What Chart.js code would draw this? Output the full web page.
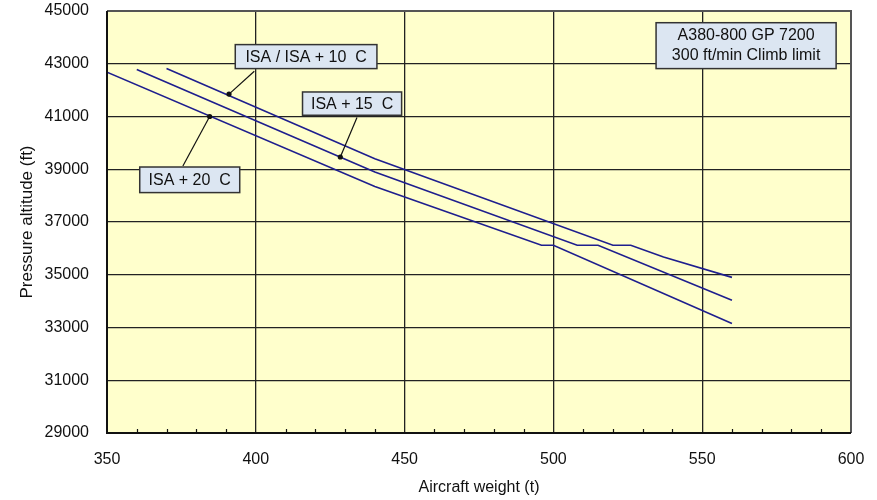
<!DOCTYPE html>
<html>
<head>
<meta charset="utf-8">
<script src="https://cdn.jsdelivr.net/npm/chart.js@4.4.1/dist/chart.umd.min.js"></script>
<style>
  html, body { margin: 0; padding: 0; background: #fff; }
  #wrap { width: 877px; height: 500px; }
</style>
</head>
<body>
<div id="wrap"><canvas id="c" width="877" height="500"></canvas></div>
<script>
// ── datos (peso en t, altitud en ft) ──
const weightIsa10 = [370, 440, 520, 526, 537, 560];
const altIsa10    = [42820, 39400, 36120, 36120, 35670, 34900];
const weightIsa15 = [360, 440, 508, 515, 560];
const altIsa15    = [42780, 38900, 36120, 36120, 34030];
const weightIsa20 = [350, 440, 496, 500, 560];
const altIsa20    = [42680, 38350, 36120, 36120, 33150];
const seriesNames = ['ISA / ISA + 10  C', 'ISA + 15  C', 'ISA + 20  C'];

const xTicks = [350, 400, 450, 500, 550, 600];
const xMinorTicks = [360, 370, 380, 390, 410, 420, 430, 440, 460, 470, 480, 490,
                     510, 520, 530, 540, 560, 570, 580, 590];
const yTicks = [29000, 31000, 33000, 35000, 37000, 39000, 41000, 43000, 45000];
const infoLines = ['A380-800 GP 7200', '300 ft/min Climb limit'];

// callouts: caja [w0, altTop, w1, altBottom], inicio de la guía y punto sobre la curva
const callouts = [
  { text: seriesNames[0], box: [393.1, 43726, 440.7, 42816], from: [399.5, 42714], dot: [391, 41850] },
  { text: seriesNames[1], box: [415.7, 41930, 449.0, 41047], from: [434.0, 40958], dot: [428.4, 39465] },
  { text: seriesNames[2], box: [361.0, 39085, 394.6, 38115], from: [375.5, 39123], dot: [384.5, 41000] }
];
const infoBox = [534.5, 44556, 595, 42816];

const FONT = 'Liberation Sans, Arial, sans-serif';
const LINE = '#1e1e8e';

function pts(ws, as) { return ws.map(function (w, i) { return { x: w, y: as[i] }; }); }

const plotDecor = {
  id: 'plotDecor',
  beforeDraw: function (chart) {
    const a = chart.chartArea, ctx = chart.ctx;
    ctx.save();
    ctx.fillStyle = '#FFFFCC';
    ctx.fillRect(a.left, a.top, a.right - a.left, a.bottom - a.top);
    ctx.restore();
  },
  afterDatasetsDraw: function (chart) {
    const a = chart.chartArea, ctx = chart.ctx;
    const xs = chart.scales.x, ys = chart.scales.y;
    const px = function (w) { return xs.getPixelForValue(w); };
    const py = function (v) { return ys.getPixelForValue(v); };
    ctx.save();
    // marco del área
    ctx.lineWidth = 2;
    ctx.strokeStyle = '#555';
    ctx.beginPath();
    ctx.moveTo(a.left, a.top); ctx.lineTo(a.right, a.top); ctx.lineTo(a.right, a.bottom);
    ctx.stroke();
    ctx.strokeStyle = '#111';
    ctx.beginPath();
    ctx.moveTo(a.left, a.top); ctx.lineTo(a.left, a.bottom); ctx.lineTo(a.right, a.bottom);
    ctx.stroke();
    // marcas menores hacia dentro
    ctx.lineWidth = 1.2;
    xMinorTicks.forEach(function (w) {
      const x = Math.round(px(w)) + 0.5;
      ctx.beginPath(); ctx.moveTo(x, a.bottom); ctx.lineTo(x, a.bottom - 4); ctx.stroke();
    });
    // callouts
    ctx.font = '16px ' + FONT;
    ctx.textAlign = 'center';
    ctx.textBaseline = 'middle';
    callouts.forEach(function (c) {
      ctx.strokeStyle = '#111'; ctx.lineWidth = 1.2;
      ctx.beginPath(); ctx.moveTo(px(c.from[0]), py(c.from[1])); ctx.lineTo(px(c.dot[0]), py(c.dot[1])); ctx.stroke();
      ctx.fillStyle = '#111';
      ctx.beginPath(); ctx.arc(px(c.dot[0]), py(c.dot[1]), 2.6, 0, Math.PI * 2); ctx.fill();
      const x0 = px(c.box[0]), y0 = py(c.box[1]), x1 = px(c.box[2]), y1 = py(c.box[3]);
      ctx.fillStyle = '#DCE6F2';
      ctx.fillRect(x0, y0, x1 - x0, y1 - y0);
      ctx.strokeStyle = '#333'; ctx.lineWidth = 1.5;
      ctx.strokeRect(x0, y0, x1 - x0, y1 - y0);
      ctx.fillStyle = '#111';
      ctx.fillText(c.text, (x0 + x1) / 2, (y0 + y1) / 2 + 1);
    });
    // caja de información
    const bx0 = px(infoBox[0]), by0 = py(infoBox[1]), bx1 = px(infoBox[2]), by1 = py(infoBox[3]);
    ctx.fillStyle = '#DCE6F2';
    ctx.fillRect(bx0, by0, bx1 - bx0, by1 - by0);
    ctx.strokeStyle = '#333'; ctx.lineWidth = 1.5;
    ctx.strokeRect(bx0, by0, bx1 - bx0, by1 - by0);
    ctx.fillStyle = '#111';
    const cy = (by0 + by1) / 2;
    ctx.fillText(infoLines[0], (bx0 + bx1) / 2, cy - 10);
    ctx.fillText(infoLines[1], (bx0 + bx1) / 2, cy + 10);
    ctx.restore();
  }
};

const gridStyle = { color: '#222', lineWidth: 1.3, drawTicks: false };
const plain = function (v) { return String(v); };

new Chart(document.getElementById('c'), {
  type: 'line',
  data: {
    datasets: [
      { label: seriesNames[0], data: pts(weightIsa10, altIsa10) },
      { label: seriesNames[1], data: pts(weightIsa15, altIsa15) },
      { label: seriesNames[2], data: pts(weightIsa20, altIsa20) }
    ].map(function (d) {
      return Object.assign(d, { borderColor: LINE, borderWidth: 1.6, pointRadius: 0, tension: 0, fill: false });
    })
  },
  options: {
    responsive: false,
    animation: false,
    devicePixelRatio: 1,
    layout: { padding: { top: 11, right: 26, left: 0, bottom: 0 } },
    plugins: { legend: { display: false }, tooltip: { enabled: false } },
    scales: {
      x: {
        type: 'linear', min: 350, max: 600,
        afterBuildTicks: function (s) { s.ticks = xTicks.map(function (v) { return { value: v }; }); },
        afterFit: function (s) { s.height = 67; s.paddingLeft = 0; s.paddingRight = 0; },
        grid: gridStyle,
        border: { display: false },
        ticks: { color: '#111', padding: 17, font: { family: FONT, size: 16 }, maxRotation: 0, autoSkip: false, callback: plain },
        title: { display: true, text: 'Aircraft weight (t)', color: '#111', font: { family: FONT, size: 16 }, padding: { top: 0, bottom: 3 } }
      },
      y: {
        type: 'linear', min: 29000, max: 45000,
        afterBuildTicks: function (s) { s.ticks = yTicks.map(function (v) { return { value: v }; }); },
        afterFit: function (s) { s.width = 107; s.paddingTop = 0; s.paddingBottom = 0; },
        grid: gridStyle,
        border: { display: false },
        ticks: { color: '#111', padding: 18, font: { family: FONT, size: 16 }, autoSkip: false, callback: plain },
        title: { display: true, text: 'Pressure altitude (ft)', color: '#111', font: { family: FONT, size: 17 }, padding: { top: 17, bottom: 0 } }
      }
    }
  },
  plugins: [plotDecor]
});
</script>
</body>
</html>
